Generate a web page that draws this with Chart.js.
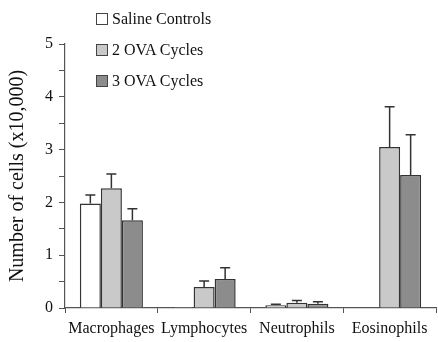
<!DOCTYPE html>
<html>
<head>
<meta charset="utf-8">
<script src="https://cdn.jsdelivr.net/npm/chart.js@4.4.1/dist/chart.umd.min.js"></script>
<style>
  html, body { margin: 0; padding: 0; background: #fff; }
  #wrap { position: relative; width: 438px; height: 342px; }
  canvas { position: absolute; left: 0; top: 0; }
  .legend { position: absolute; left: 96px; top: 3px; font-family: "Liberation Serif", serif; font-size: 16px; color: #111; }
  .legend div { display: flex; align-items: center; height: 31px; }
  .legend span.box { display: inline-block; width: 10px; height: 10px; border: 1px solid #444; margin-right: 4px; }
</style>
</head>
<body>
<div id="wrap">
  <canvas id="c" width="438" height="342"></canvas>
  <div class="legend" id="legend"></div>
</div>
<script>
const categories = ["Macrophages", "Lymphocytes", "Neutrophils", "Eosinophils"];
const seriesNames = ["Saline Controls", "2 OVA Cycles", "3 OVA Cycles"];
const seriesColors = ["#ffffff", "#c9c9c9", "#8c8c8c"];

// mean cell counts (x10,000)
const salineValues = [1.98, 0.02, 0.05, 0.01];
const ova2Values = [2.27, 0.40, 0.10, 3.05];
const ova3Values = [1.66, 0.55, 0.08, 2.52];

// upper error (SEM) for each bar
const salineErrors = [0.16, 0.00, 0.02, 0.00];
const ova2Errors = [0.27, 0.11, 0.04, 0.76];
const ova3Errors = [0.22, 0.21, 0.04, 0.76];

const yTicks = [0, 1, 2, 3, 4, 5];

const allValues = [salineValues, ova2Values, ova3Values];
const allErrors = [salineErrors, ova2Errors, ova3Errors];

// legend
const legendEl = document.getElementById('legend');
seriesNames.forEach((name, i) => {
  const row = document.createElement('div');
  const box = document.createElement('span');
  box.className = 'box';
  box.style.background = seriesColors[i];
  row.appendChild(box);
  row.appendChild(document.createTextNode(name));
  legendEl.appendChild(row);
});

// upward error bars with a cap
const errorBars = {
  id: 'errorBars',
  afterDatasetsDraw(chart) {
    const ctx = chart.ctx;
    const yScale = chart.scales.y;
    ctx.save();
    ctx.strokeStyle = '#333';
    ctx.lineWidth = 1.5;
    chart.data.datasets.forEach((ds, di) => {
      const meta = chart.getDatasetMeta(di);
      meta.data.forEach((bar, i) => {
        const err = allErrors[di][i];
        if (!err) return;
        const yTop = yScale.getPixelForValue(ds.data[i] + err);
        const x = bar.x;
        ctx.beginPath();
        ctx.moveTo(x, bar.y);
        ctx.lineTo(x, yTop);
        ctx.moveTo(x - 5, yTop);
        ctx.lineTo(x + 5, yTop);
        ctx.stroke();
      });
    });
    ctx.restore();
  }
};

new Chart(document.getElementById('c'), {
  type: 'bar',
  data: {
    labels: categories,
    datasets: seriesNames.map((name, i) => ({
      label: name,
      data: allValues[i],
      backgroundColor: seriesColors[i],
      borderColor: '#333',
      borderWidth: 1.5,
      borderSkipped: 'bottom',
      barPercentage: 1,
      categoryPercentage: 0.68
    }))
  },
  options: {
    responsive: false,
    animation: false,
    layout: { padding: { top: 44, right: 2, left: 6, bottom: 0 } },
    plugins: { legend: { display: false }, tooltip: { enabled: false } },
    scales: {
      x: {
        afterFit(s) { s.height = 34; },
        grid: {
          offset: true,
          drawOnChartArea: false,
          drawTicks: true,
          tickLength: 5,
          tickColor: '#555'
        },
        border: { color: '#555', width: 1.2 },
        ticks: {
          color: '#111',
          padding: 6,
          font: { family: 'Liberation Serif', size: 16 }
        }
      },
      y: {
        min: 0,
        max: 5,
        afterFit(s) { s.width = 59; },
        afterBuildTicks(s) {
          const t = [];
          for (let v = 0; v <= 5; v += 0.5) t.push({ value: v });
          s.ticks = t;
        },
        title: {
          display: true,
          text: 'Number of cells (x10,000)',
          color: '#111',
          font: { family: 'Liberation Serif', size: 20 },
          padding: { top: 0, bottom: 3 }
        },
        grid: {
          drawOnChartArea: false,
          drawTicks: true,
          tickLength: 6,
          tickColor: '#555'
        },
        border: { color: '#555', width: 1.2 },
        ticks: {
          color: '#111',
          padding: 6,
          font: { family: 'Liberation Serif', size: 16 },
          callback(v) { return yTicks.includes(v) ? String(v) : ''; }
        }
      }
    }
  },
  plugins: [errorBars]
});
</script>
</body>
</html>
